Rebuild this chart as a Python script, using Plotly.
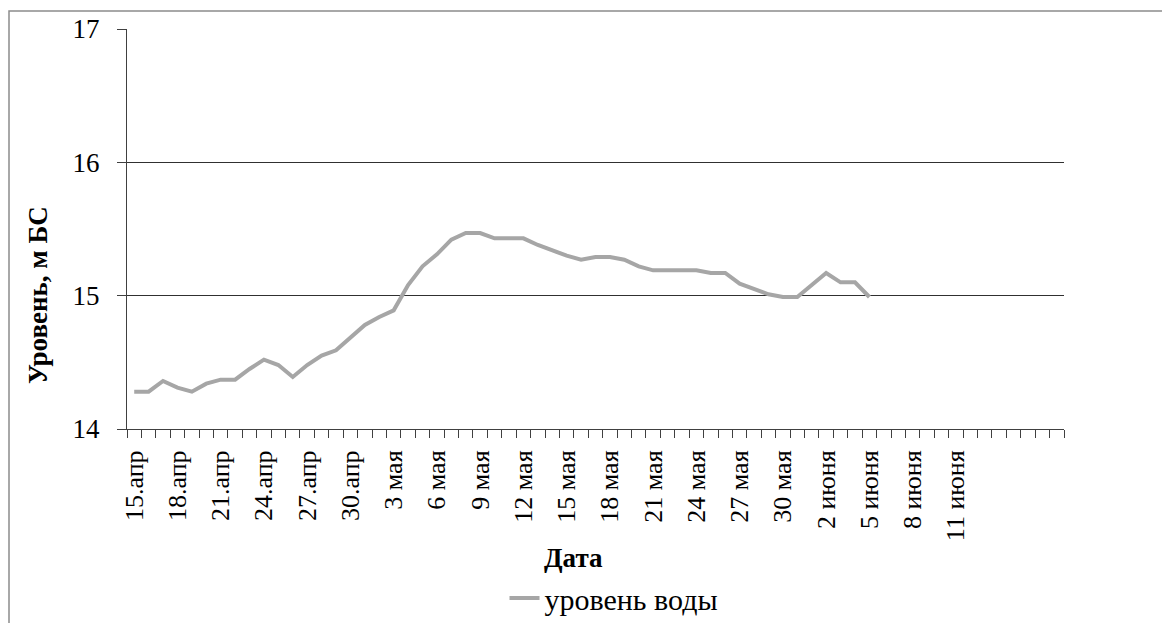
import plotly.graph_objects as go

# daily categories, 15 апр .. 18 июня
days_apr = [f"{d}.апр" for d in range(15, 31)]
days_may = [f"{d} мая" for d in range(1, 32)]
days_jun = [f"{d} июня" for d in range(1, 19)]
dates = days_apr + days_may + days_jun

# labelled every third day up to 11 июня
tick_labels = [d if (i % 3 == 0 and i <= 57) else "" for i, d in enumerate(dates)]

level = [14.28, 14.28, 14.36, 14.31, 14.28, 14.34, 14.37, 14.37, 14.45, 14.52,
         14.48, 14.39, 14.48, 14.55, 14.59, 14.69, 14.78, 14.84, 14.89, 15.08,
         15.22, 15.31, 15.42, 15.47, 15.47, 15.43, 15.43, 15.43, 15.38, 15.34,
         15.30, 15.27, 15.29, 15.29, 15.27, 15.22, 15.19, 15.19, 15.19, 15.19,
         15.17, 15.17, 15.09, 15.05, 15.01, 14.99, 14.99, 15.08, 15.17, 15.10,
         15.10, 14.99]

font = "Liberation Serif"
# page body has an 8px margin, so the figure is 8px smaller than the window
W, H = 1162, 615
L, R, T, B = 119, 106, 21, 194
pw, ph = W - L - R, H - T - B
px0, py0 = 127, 429  # plot origin in window pixels


def fx(sx):
    return (sx - px0) / pw


def fy(sy):
    return (py0 - sy) / ph


fig = go.Figure()
fig.add_trace(go.Scatter(x=dates[:len(level)], y=level, mode='lines',
                         line={'width': 4, 'color': '#A6A6A6'}, name='уровень воды'))

fig.update_layout(
    width=W, height=H,
    margin=dict(l=L, r=R, t=T, b=B, autoexpand=False),
    paper_bgcolor='white', plot_bgcolor='white',
    font=dict(family=font, size=26, color='black'),
    showlegend=True,
    legend=dict(orientation='h', x=fx(614), xanchor='center',
                y=fy(598), yanchor='middle', itemwidth=30,
                font=dict(family=font, size=30), bgcolor='rgba(0,0,0,0)'),
)
fig.update_xaxes(type='category', categoryorder='array', categoryarray=dates,
                 range=[-0.5, len(dates) - 0.5],
                 tickmode='array', tickvals=dates, ticktext=tick_labels,
                 tickson='boundaries', ticks='outside', ticklen=8, tickcolor='#404040',
                 ticklabelstandoff=10,
                 tickangle=-90, tickfont=dict(family=font, size=26),
                 showgrid=False, showline=True, linecolor='#404040', linewidth=1,
                 zeroline=False, automargin=False)
fig.update_yaxes(range=[14, 17], dtick=1, ticks='outside', ticklen=9, tickcolor='#404040',
                 ticklabelstandoff=12, tickfont=dict(family=font, size=27),
                 showgrid=True, gridcolor='#303030', gridwidth=1,
                 showline=True, linecolor='#404040', linewidth=1, zeroline=False,
                 automargin=False)

fig.add_annotation(text='<b>Дата</b>', xref='paper', yref='paper',
                   x=fx(573), y=fy(558), xanchor='center', yanchor='middle',
                   showarrow=False, font=dict(family=font, size=27))
fig.add_annotation(text='<b>Уровень, м БС</b>', xref='paper', yref='paper',
                   x=fx(38), y=fy(295), xanchor='center', yanchor='middle',
                   textangle=-90, showarrow=False, font=dict(family=font, size=27))

# outer chart frame
fig.add_shape(type='rect', xref='paper', yref='paper',
              x0=fx(9), x1=fx(1200), y0=fy(660), y1=fy(11),
              line=dict(color='#8C8C8C', width=1.5), layer='below')

fig.write_html("out.html")
